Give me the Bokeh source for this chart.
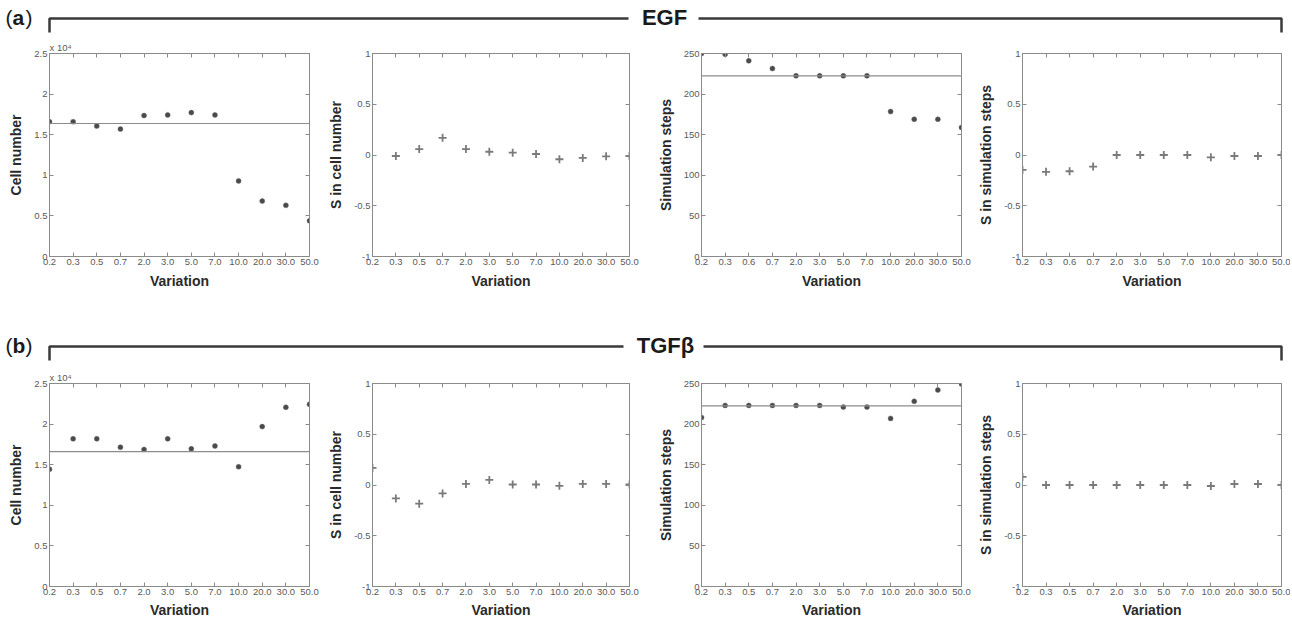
from bokeh.plotting import figure
from bokeh.layouts import column, row
from bokeh.models import Range1d, FixedTicker, LinearAxis, Span
from bokeh.embed import file_html
from bokeh.resources import INLINE
from bokeh.core.properties import value

NAN = float("nan")

# ---------------- data ----------------
variation_labels = ["0.2", "0.3", "0.5", "0.7", "2.0", "3.0", "5.0", "7.0", "10.0", "20.0", "30.0", "50.0"]
variation_labels_egf_sim = ["0.2", "0.3", "0.6", "0.7", "2.0", "3.0", "5.0", "7.0", "10.0", "20.0", "30.0", "50.0"]

egf_cell_number = [16600, 16600, 16060, 15690, 17360, 17440, 17720, 17440, 9310, 6830, 6300, 4390]
egf_cell_baseline = 16380
egf_s_cell = [NAN, -0.01, 0.058, 0.169, 0.058, 0.032, 0.023, 0.01, -0.042, -0.029, -0.013, -0.01]
egf_sim_steps = [250, 249, 241, 231.5, 222.5, 222.5, 222.5, 222.5, 178.5, 169, 169, 159]
egf_sim_baseline = 222.5
egf_s_sim = [-0.147, -0.166, -0.16, -0.114, 0.0, 0.0, 0.0, 0.0, -0.023, -0.01, -0.01, 0.0]

tgf_cell_number = [14450, 18190, 18190, 17160, 16880, 18190, 16960, 17310, 14750, 19690, 22070, 22430]
tgf_cell_baseline = 16600
tgf_s_cell = [0.168, -0.132, -0.184, -0.083, 0.011, 0.05, 0.005, 0.005, -0.008, 0.011, 0.011, 0.005]
tgf_sim_steps = [208, 223, 223, 223, 223, 223, 221, 221, 207, 228, 242, 249.5]
tgf_sim_baseline = 222.5
tgf_s_sim = [0.08, 0.0, 0.0, 0.0, 0.0, 0.0, 0.0, 0.0, -0.01, 0.01, 0.01, 0.0]

cell_ticks = [0, 5000, 10000, 15000, 20000, 25000]
cell_tick_labels = ["0", "0.5", "1", "1.5", "2", "2.5"]
s_ticks = [-1, -0.5, 0, 0.5, 1]
s_tick_labels = ["-1", "-0.5", "0", "0.5", "1"]
sim_ticks = [0, 50, 100, 150, 200, 250]
sim_tick_labels = ["0", "50", "100", "150", "200", "250"]

# ---------------- styling ----------------
FONT = "Liberation Sans"
AX = "#8a8a8a"
TICKTXT = "#5a5a5a"
TOTAL_W = 1290


def style_axis(ax, ticks, labels=None):
    ax.ticker = FixedTicker(ticks=ticks)
    if labels is None:
        ax.major_label_overrides = {t: "" for t in ticks}
    else:
        ax.major_label_overrides = {t: l for t, l in zip(ticks, labels)}
    ax.axis_line_color = AX
    ax.major_tick_line_color = AX
    ax.minor_tick_line_color = None
    ax.major_tick_in = 4
    ax.major_tick_out = 0
    ax.major_label_text_font = FONT
    ax.major_label_text_font_size = "9.5px"
    ax.major_label_text_color = TICKTXT
    ax.major_label_standoff = 2
    ax.axis_label_text_font = FONT
    ax.axis_label_text_font_size = "14px"
    ax.axis_label_text_font_style = "bold"
    ax.axis_label_text_color = "#2a2a2a"


def panel(cats, vals, yrange, yticks, ylabels, ylabel, kind, baseline=None,
          exponent=False, width=320, height=255, ml=44, mr=16, mt=12, mb=38,
          xstand=4):
    xs = list(range(1, len(cats) + 1))
    p = figure(width=width, height=height, x_range=Range1d(1, len(cats)),
               y_range=Range1d(*yrange), output_backend="svg", toolbar_location=None,
               min_border_left=ml, min_border_right=mr, min_border_top=mt,
               min_border_bottom=mb, outline_line_color=AX)
    p.grid.visible = False
    style_axis(p.xaxis[0], xs, cats)
    style_axis(p.yaxis[0], yticks, ylabels)
    p.xaxis[0].axis_label = "Variation"
    p.xaxis[0].axis_label_standoff = xstand
    p.yaxis[0].axis_label = ylabel
    p.yaxis[0].axis_label_standoff = 7
    top = LinearAxis()
    style_axis(top, xs)
    top.major_label_standoff = 0
    p.add_layout(top, "above")
    right = LinearAxis()
    style_axis(right, yticks)
    right.major_label_standoff = 0
    p.add_layout(right, "right")
    if baseline is not None:
        p.add_layout(Span(location=baseline, dimension="width",
                          line_color="#8c8c8c", line_width=1.2))
    if kind == "dot":
        p.scatter(xs, vals, marker="circle", size=5, fill_color="#4a4a4a",
                  line_color="#6a6a6a", line_width=0.5)
    else:
        p.scatter(xs, vals, marker="cross", size=8, line_color="#7a7a7a",
                  line_width=1.8)
    if exponent:
        p.title.text = "x 10\u2074"
        p.title.align = "left"
        p.title.text_font = FONT
        p.title.text_font_size = "9.5px"
        p.title.text_font_style = "normal"
        p.title.text_color = TICKTXT
        p.title.standoff = 1
    return p


def header(h, letter, title, line_y, tick_len, gap_l, gap_r, title_x):
    p = figure(width=TOTAL_W, height=h, x_range=Range1d(0, TOTAL_W),
               y_range=Range1d(h, 0), output_backend="svg", toolbar_location=None,
               min_border=0, x_axis_location=None, y_axis_location=None,
               outline_line_color=None)
    p.grid.visible = False
    x0, x1 = 49, 1281
    p.line([x0, x0, gap_l], [line_y + tick_len, line_y, line_y],
           line_color="#3a3a3a", line_width=2.5)
    p.line([gap_r, x1, x1], [line_y, line_y, line_y + tick_len],
           line_color="#3a3a3a", line_width=2.5)
    p.text(x=[title_x], y=[line_y - 1], text=[title], text_font=value(FONT),
           text_font_style="bold", text_font_size="22px", text_align="center",
           text_baseline="middle", text_color="#1a1a1a")
    p.text(x=[5], y=[line_y - 1], text=["("], text_font=value(FONT),
           text_font_size="21px", text_baseline="middle", text_color="#1a1a1a")
    p.text(x=[12], y=[line_y - 1], text=[letter], text_font=value(FONT),
           text_font_style="bold", text_font_size="21px", text_baseline="middle",
           text_color="#1a1a1a")
    p.text(x=[25], y=[line_y - 1], text=[")"], text_font=value(FONT),
           text_font_size="21px", text_baseline="middle", text_color="#1a1a1a")
    return p


W = [325, 320, 330, 315]
ML = [49, 44, 56, 45]
MR = [16, 16, 14, 9]


def make_row(specs, height, mb, xstand):
    figs = []
    for i, (cats, vals, yr, yt, yl, lab, kind, base, expo) in enumerate(specs):
        figs.append(panel(cats, vals, yr, yt, yl, lab, kind, base, expo,
                          W[i], height, ML[i], MR[i], 12, mb, xstand))
    return row(*figs)


hdr_a = header(39, "a", "EGF", 18, 14, 628, 698, 664)
top = make_row([
    (variation_labels, egf_cell_number, (0, 25000), cell_ticks, cell_tick_labels,
     "Cell number", "dot", egf_cell_baseline, True),
    (variation_labels, egf_s_cell, (-1, 1), s_ticks, s_tick_labels,
     "S in cell number", "cross", None, False),
    (variation_labels_egf_sim, egf_sim_steps, (0, 250), sim_ticks, sim_tick_labels,
     "Simulation steps", "dot", egf_sim_baseline, False),
    (variation_labels_egf_sim, egf_s_sim, (-1, 1), s_ticks, s_tick_labels,
     "S in simulation steps", "cross", None, False),
], 255, 38, 5)
hdr_b = header(75, "b", "TGF\u03b2", 52, 14, 623, 703, 665)
bottom = make_row([
    (variation_labels, tgf_cell_number, (0, 25000), cell_ticks, cell_tick_labels,
     "Cell number", "dot", tgf_cell_baseline, True),
    (variation_labels, tgf_s_cell, (-1, 1), s_ticks, s_tick_labels,
     "S in cell number", "cross", None, False),
    (variation_labels, tgf_sim_steps, (0, 250), sim_ticks, sim_tick_labels,
     "Simulation steps", "dot", tgf_sim_baseline, False),
    (variation_labels, tgf_s_sim, (-1, 1), s_ticks, s_tick_labels,
     "S in simulation steps", "cross", None, False),
], 251, 32, 4)

page = column(hdr_a, top, hdr_b, bottom)
open("out.html", "w").write(file_html(page, INLINE))
